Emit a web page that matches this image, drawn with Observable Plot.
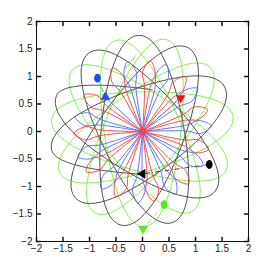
<!DOCTYPE html>
<html><head><meta charset="utf-8">
<script src="https://cdn.jsdelivr.net/npm/d3@7"></script>
<script src="https://cdn.jsdelivr.net/npm/@observablehq/plot@0.6"></script>
<style>body{margin:0;background:#fff;}#chart{width:275px;height:273px;}</style>
</head><body><div id="chart"></div>
<script>
// tick values
const ticks = [-2, -1.5, -1, -0.5, 0, 0.5, 1, 1.5, 2];

// black trajectory: loop ends and side turning points, in drawing order
const blackX = [0.183, -1.625, -0.390, 1.375, 0.565, -1.014, -0.694, 0.570, 0.766, -0.079, -0.777, -0.406, 0.725, 0.870, -0.615, -1.263, 0.454, 1.554, -0.257, -1.718, 0.038];
const blackY = [0.758, 0.650, -0.675, -1.082, 0.538, 1.426, -0.357, -1.655, 0.146, 1.748, 0.071, -1.702, -0.287, 1.519, 0.480, -1.211, -0.634, 0.805, 0.737, -0.334, -0.779];

// green trajectory (closed)
const greenX = [0.030, 0.714, 0.457, -0.660, -0.909, 0.552, 1.288, -0.399, -1.561, 0.214, 1.708, -0.011, -1.716, -0.192, 1.584, 0.380, -1.323, -0.538, 0.955, 0.651, -0.509, -0.711];
const greenY = [-1.730, -0.090, 1.669, 0.287, -1.472, -0.462, 1.155, 0.599, -0.745, -0.687, 0.274, 0.720, 0.220, -0.694, -0.695, 0.611, 1.114, -0.479, -1.443, 0.308, 1.654, -0.111];

// red petal tips
const redTipX = [0.146, -0.570, -1.106, -1.289, -1.064, -0.500, 0.222, 0.873, 1.248, 1.226, 0.815];
const redTipY = [1.282, 1.157, 0.664, -0.038, -0.729, -1.189, -1.271, -0.950, -0.325, 0.401, 1.000];

// blue petal tips
const blueTipX = [1.296, 1.038, 0.449, -0.281, -1.272, -1.216, -0.775, -0.086, 0.628, 1.143];
const blueTipY = [0.097, 0.782, 1.220, 1.269, 0.270, -0.460, -1.044, -1.297, -1.138, -0.618];
// unfinished blue stroke from centre
const blueTailX = [0, -0.70];
const blueTailY = [0, 0.62];

// short green stroke near the top
const greenBitX = [-0.36, -0.13];
const greenBitY = [1.10, 1.38];

// markers
const circleX = [-0.85, 1.26, 0.41];
const circleY = [0.97, -0.60, -1.33];
const circleC = ["#1f4ff0", "#000000", "#4ef016"];
const centreX = [0], centreY = [0];
const triX = [-0.70, 0.72, 0.00, 0.01];
const triY = [0.63, 0.61, -0.77, -1.77];
const triRot = [0, 180, -90, 180];
const triC = ["#1f4ff0", "#ee0f14", "#000000", "#4ef016"];

const colBlack = "#4a4a4a", colGreen = "#7ef04a", colBlue = "#5a6ff0", colRed = "#f04848";

const blackPts = blackX.map((x, i) => ({x, y: blackY[i]}));
const greenPts = greenX.map((x, i) => ({x, y: greenY[i]}));

// petal outline template: offset from the tip along the radius, and across it
const tmplU = [null, -0.46, -0.22, 0, -0.22, -0.46, null];
const tmplV = [0, -0.055, -0.12, 0, 0.12, 0.055, 0];
function petals(tx, ty) {
  const out = [];
  tx.forEach((x, i) => {
    const y = ty[i], L = Math.hypot(x, y), c = x / L, s = y / L;
    tmplU.forEach((du, j) => {
      const u = du === null ? 0 : L + du, v = tmplV[j];
      out.push({x: u * c - v * s, y: u * s + v * c, id: i});
    });
  });
  return out;
}
const redPts = petals(redTipX, redTipY);
const bluePts = petals(blueTipX, blueTipY);

const pairs = [
  {x1: circleX[0], y1: circleY[0], x2: triX[0], y2: triY[0], c: colBlue},
  {x1: centreX[0], y1: centreY[0], x2: triX[1], y2: triY[1], c: colRed},
  {x1: circleX[1], y1: circleY[1], x2: triX[2], y2: triY[2], c: "#333"},
  {x1: circleX[2], y1: circleY[2], x2: triX[3], y2: triY[3], c: colGreen}
];

const ellipse = {draw(ctx, size) {
  const r = Math.sqrt(size / Math.PI), rx = r * 0.8, ry = r * 1.05, k = 0.5523;
  ctx.moveTo(rx, 0);
  ctx.bezierCurveTo(rx, ry * k, rx * k, ry, 0, ry);
  ctx.bezierCurveTo(-rx * k, ry, -rx, ry * k, -rx, 0);
  ctx.bezierCurveTo(-rx, -ry * k, -rx * k, -ry, 0, -ry);
  ctx.bezierCurveTo(rx * k, -ry, rx, -ry * k, rx, 0);
  ctx.closePath();
}};
const tickShape = {draw(ctx, l) { ctx.moveTo(0, 0); ctx.lineTo(0, -l); }};

const circles = circleX.map((x, i) => ({x, y: circleY[i], c: circleC[i]}));
const tris = triX.map((x, i) => ({x, y: triY[i], r: triRot[i], c: triC[i]}));
const fmt = d => d < 0 ? "\u2212" + Math.abs(d) : String(d);

const chart = Plot.plot({
  width: 275, height: 273,
  marginLeft: 36, marginRight: 27, marginTop: 21, marginBottom: 32,
  x: {domain: [-2, 2]},
  y: {domain: [-2, 2]},
  style: {fontFamily: "'Liberation Sans Narrow', 'Liberation Sans', Arial, sans-serif", fontSize: "10px", background: "white", color: "#222"},
  marks: [
    Plot.dot({length: 1}, {x: centreX, y: centreY, r: 3.6, fill: "#d0103a", symbol: ellipse}),
    Plot.line(greenPts, {x: "x", y: "y", curve: "cardinal-closed", tension: -0.5, stroke: colGreen, strokeWidth: 0.95}),
    Plot.line(blackPts, {x: "x", y: "y", curve: "cardinal", tension: -0.5, stroke: colBlack, strokeWidth: 0.95}),
    Plot.line(bluePts, {x: "x", y: "y", z: "id", curve: "catmull-rom", stroke: colBlue, strokeWidth: 0.95}),
    Plot.line(blueTailX.map((x, i) => ({x, y: blueTailY[i]})), {x: "x", y: "y", stroke: colBlue, strokeWidth: 0.95}),
    Plot.line(redPts, {x: "x", y: "y", z: "id", curve: "catmull-rom", stroke: colRed, strokeWidth: 0.95}),
    Plot.line(greenBitX.map((x, i) => ({x, y: greenBitY[i]})), {x: "x", y: "y", stroke: colGreen, strokeWidth: 0.95}),
    Plot.link(pairs, {x1: "x1", y1: "y1", x2: "x2", y2: "y2", stroke: "c", strokeWidth: 0.9, strokeDasharray: "5,2,1,2"}),
    Plot.dot(circles, {x: "x", y: "y", fill: "c", r: 4.2, symbol: ellipse, stroke: null}),
    Plot.dot(tris, {x: "x", y: "y", fill: "c", r: 3.6, symbol: "triangle", rotate: "r", stroke: null}),
    Plot.frame({stroke: "#111"}),
    // inward tick marks on all four sides
    Plot.vector(ticks, {x: d => d, y: -2, length: 4, rotate: 0, anchor: "start", shape: tickShape, stroke: "#111"}),
    Plot.vector(ticks, {x: d => d, y: 2, length: 4, rotate: 180, anchor: "start", shape: tickShape, stroke: "#111"}),
    Plot.vector(ticks, {x: -2, y: d => d, length: 4, rotate: 90, anchor: "start", shape: tickShape, stroke: "#111"}),
    Plot.vector(ticks, {x: 2, y: d => d, length: 4, rotate: -90, anchor: "start", shape: tickShape, stroke: "#111"}),
    Plot.axisX(ticks, {anchor: "bottom", tickSize: 0, tickPadding: 3, tickFormat: fmt, label: null}),
    Plot.axisY(ticks, {anchor: "left", tickSize: 0, tickPadding: 4, tickFormat: fmt, label: null})
  ]
});
document.getElementById("chart").append(chart);
</script>
</body></html>
